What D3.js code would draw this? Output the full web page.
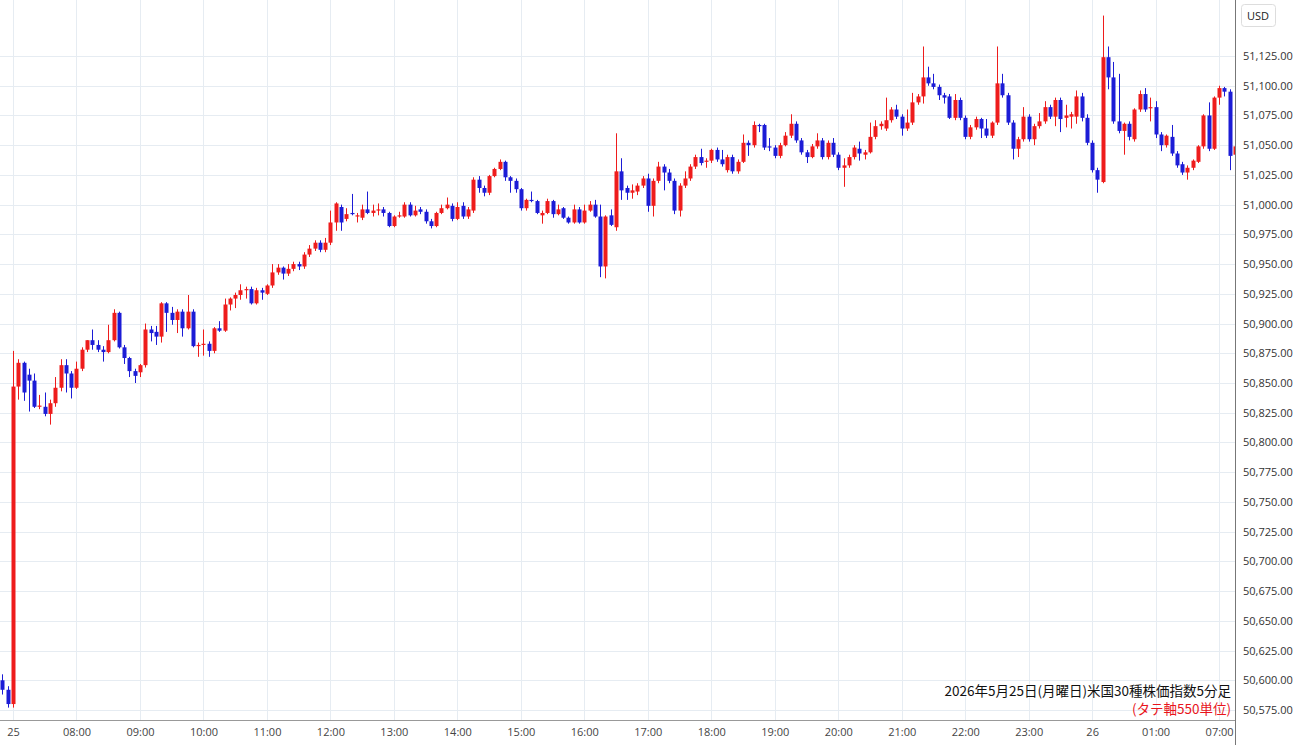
<!DOCTYPE html>
<html><head><meta charset="utf-8">
<script src="https://cdn.jsdelivr.net/npm/d3@7"></script>
<style>body{margin:0;background:#fff}svg{display:block;font-family:"Noto Sans CJK JP","Noto Sans",sans-serif}</style>
</head><body><svg id="c" width="1300" height="745"></svg>
<script>
// candle index (0 = 07:00 on the 25th, 5-minute steps; gap 02:00-07:00 collapsed)
const startIndex = -2;
const open = [50600,50592,50580,50847,50867,50857,50852,50830,50830,50824,50833,50846,50865,50858,50846,50862,50878,50886,50882,50878,50876,50886,50909,50880,50871,50860,50859,50865,50895,50893,50889,50917,50909,50903,50910,50896,50910,50881,50882,50883,50877,50896,50894,50916,50921,50924,50928,50929,50917,50928,50925,50932,50943,50947,50942,50946,50950,50948,50958,50963,50968,50962,50968,50985,50998,50988,50993,50990,50989,50996,50993,50995,50996,50993,50982,50990,50990,51000,50991,50996,50994,50986,50982,50993,50997,50999,50988,50999,50990,50995,51021,51014,51010,51024,51030,51036,51023,51020,51013,50997,51004,51003,50991,50993,51003,50992,50997,50989,50985,50996,50985,50995,51000,50990,50948,50991,50981,51028,51014,51010,51011,51016,51022,50999,51020,51032,51027,51020,50995,51016,51022,51032,51040,51036,51037,51046,51038,51029,51040,51028,51036,51052,51050,51067,51067,51049,51048,51041,51050,51058,51068,51054,51044,51040,51049,51054,51040,51052,51042,51031,51033,51040,51047,51042,51044,51057,51066,51064,51071,51080,51074,51064,51069,51086,51091,51107,51102,51099,51092,51091,51073,51088,51073,51057,51065,51072,51064,51058,51069,51102,51092,51069,51047,51055,51074,51055,51066,51070,51082,51074,51088,51073,51074,51074,51091,51073,51052,51029,51019,51124,51107,51070,51062,51068,51055,51080,51093,51081,51082,51059,51050,51057,51043,51034,51027,51031,51036,51049,51075,51047,51090,51098,51095,51042];
const high = [50605,50595,50877,50870,50868,50862,50858,50840,50842,50836,50855,50870,50870,50860,50868,50880,50886,50895,50886,50881,50899,50912,50910,50882,50872,50862,50866,50900,50898,50898,50918,50918,50914,50912,50912,50924,50912,50884,50895,50885,50897,50902,50921,50922,50926,50933,50931,50931,50930,50930,50933,50950,50950,50948,50950,50952,50952,50960,50966,50970,50970,50972,50995,51002,51000,50997,51009,50993,51000,51011,51000,51001,50998,50994,50991,50994,51002,51002,50999,50998,50996,50988,50994,51000,51006,51001,51002,51002,50998,51023,51024,51016,51025,51031,51038,51037,51024,51022,51014,51005,51011,51004,50995,51005,51004,51000,50998,50990,51000,50998,51000,51003,51004,51000,50991,50996,51060,51039,51016,51017,51018,51024,51026,51022,51036,51034,51030,51022,51018,51028,51034,51042,51047,51039,51047,51048,51046,51042,51042,51038,51059,51054,51070,51068,51068,51056,51050,51052,51061,51076,51070,51056,51046,51051,51060,51056,51054,51056,51044,51039,51042,51050,51053,51046,51069,51071,51070,51090,51082,51084,51076,51080,51094,51093,51133,51116,51110,51101,51094,51093,51093,51090,51075,51067,51074,51073,51072,51070,51133,51110,51094,51071,51057,51082,51076,51068,51077,51087,51084,51090,51090,51084,51078,51096,51094,51076,51054,51031,51159,51133,51120,51110,51069,51070,51081,51096,51098,51090,51087,51061,51059,51067,51045,51036,51033,51038,51050,51076,51086,51091,51100,51099,51097,51050];
const low = [50588,50577,50577,50836,50835,50826,50829,50828,50822,50815,50830,50843,50842,50837,50845,50860,50876,50878,50876,50868,50875,50885,50879,50866,50855,50850,50855,50863,50885,50882,50884,50893,50899,50892,50889,50895,50880,50872,50873,50872,50875,50893,50893,50911,50913,50920,50921,50916,50916,50920,50924,50930,50941,50937,50940,50944,50945,50946,50956,50961,50960,50960,50966,50978,50978,50986,50991,50985,50987,50992,50990,50991,50990,50981,50981,50989,50989,50990,50990,50992,50984,50980,50981,50992,50996,50986,50987,50988,50988,50993,51010,51007,51008,51023,51029,51020,51010,51010,50995,50995,51002,50992,50984,50992,50989,50991,50988,50984,50984,50984,50984,50994,50989,50939,50938,50982,50978,51004,51004,51005,51008,51014,50994,50990,51018,51012,51018,50992,50990,51014,51020,51030,51033,51031,51035,51036,51032,51027,51026,51026,51035,51041,51048,51061,51046,51045,51039,51039,51049,51056,51052,51042,51035,51039,51047,51038,51038,51040,51029,51015,51031,51038,51037,51038,51043,51055,51063,51062,51069,51072,51058,51062,51067,51084,51085,51100,51097,51088,51085,51072,51071,51071,51055,51055,51063,51056,51056,51056,51067,51090,51067,51038,51040,51053,51053,51050,51064,51068,51072,51066,51061,51065,51064,51068,51070,51050,51027,51010,51018,51097,51068,51060,51042,51054,51053,51078,51078,51070,51056,51045,51048,51041,51031,51025,51021,51029,51035,51047,51045,51046,51084,51091,51029,51040];
const close = [50592,50580,50847,50867,50842,50852,50830,50831,50824,50833,50846,50865,50858,50846,50862,50878,50886,50882,50878,50876,50886,50909,50880,50871,50860,50856,50865,50895,50892,50889,50917,50909,50903,50910,50896,50910,50881,50882,50883,50877,50896,50894,50916,50921,50924,50928,50929,50917,50928,50926,50932,50943,50947,50942,50946,50950,50948,50958,50963,50968,50962,50968,50985,51001,50985,50992,50992,50991,50996,50993,50995,50996,50993,50982,50990,50991,51000,50991,50995,50994,50986,50982,50993,50997,51000,50988,50998,50990,50996,51021,51014,51010,51024,51030,51036,51023,51020,51013,50997,51004,51003,50993,50993,51003,50992,50996,50989,50985,50996,50985,50995,51000,50990,50948,50990,50983,51028,51012,51010,51012,51016,51022,50999,51020,51032,51027,51020,50995,51016,51022,51032,51040,51035,51037,51046,51038,51034,51040,51028,51036,51052,51050,51067,51066,51048,51048,51041,51050,51058,51068,51054,51044,51040,51049,51054,51040,51052,51042,51031,51033,51040,51048,51043,51044,51057,51066,51068,51071,51080,51074,51064,51069,51086,51091,51107,51102,51099,51092,51090,51073,51088,51073,51057,51065,51072,51064,51058,51069,51102,51092,51069,51047,51055,51074,51055,51066,51070,51082,51074,51088,51072,51075,51076,51091,51073,51052,51029,51021,51124,51107,51070,51062,51068,51057,51080,51093,51080,51082,51059,51050,51058,51043,51033,51027,51031,51037,51049,51075,51047,51090,51098,51095,51041,51049];
const tickIndex = [0,12,24,36,48,60,72,84,96,108,120,132,144,156,168,180,192,204,216,228];
const tickLabels = ["25","08:00","09:00","10:00","11:00","12:00","13:00","14:00","15:00","16:00","17:00","18:00","19:00","20:00","21:00","22:00","23:00","26","01:00","07:00"];
const priceTicks = d3.range(50575, 51126, 25);
const titleText = "2026年5月25日(月曜日)米国30種株価指数5分足";
const noteText = "(タテ軸550単位)";

const W = 1300, H = 745, plotR = 1235, plotB = 720;
const UP = "#ee1c1c", DOWN = "#1c1cd6";
const svg = d3.select("#c");
const x = d3.scaleLinear().domain([0, 228]).range([13, 13 + 228 * 5.29]);
const y = d3.scaleLinear().domain([50575, 51125]).range([710, 56]);

const defs = svg.append("defs");
defs.append("clipPath").attr("id","clip").append("rect").attr("x",0).attr("y",0).attr("width",plotR).attr("height",plotB);
defs.append("clipPath").attr("id","clipx").append("rect").attr("x",0).attr("y",0).attr("width",plotR).attr("height",30);
const grid = svg.append("g");
grid.selectAll("line.h").data(priceTicks).join("line").attr("x1",0).attr("x2",plotR)
  .attr("y1",d=>Math.round(y(d))+0.5).attr("y2",d=>Math.round(y(d))+0.5).attr("stroke","#e6ecf2");
grid.selectAll("line.v").data(tickIndex).join("line").attr("y1",0).attr("y2",plotB)
  .attr("x1",d=>Math.round(x(d))+0.5).attr("x2",d=>Math.round(x(d))+0.5).attr("stroke","#e6ecf2");

const data = close.map((c,i)=>({i:i+startIndex,o:open[i],h:high[i],l:low[i],c}));
const g = svg.append("g").attr("clip-path","url(#clip)");
const cg = g.selectAll("g").data(data).join("g");
cg.append("line").attr("x1",d=>Math.round(x(d.i))+0.5).attr("x2",d=>Math.round(x(d.i))+0.5)
  .attr("y1",d=>y(d.h)).attr("y2",d=>y(d.l)).attr("stroke",d=>d.c>=d.o?UP:DOWN).attr("stroke-width",1);
cg.append("rect").attr("x",d=>Math.round(x(d.i))-1.5).attr("width",4)
  .attr("y",d=>y(Math.max(d.o,d.c))).attr("height",d=>Math.max(1,Math.abs(y(d.o)-y(d.c))))
  .attr("fill",d=>d.c>=d.o?UP:DOWN);

svg.append("line").attr("x1",0).attr("x2",plotR).attr("y1",plotB+0.5).attr("y2",plotB+0.5).attr("stroke","#999");
svg.append("line").attr("x1",plotR+0.5).attr("x2",plotR+0.5).attr("y1",0).attr("y2",H).attr("stroke","#777");
const yAxis = d3.axisRight(y).tickValues(priceTicks).tickSize(0).tickPadding(8).tickFormat(d3.format(",.2f"));
const ya = svg.append("g").attr("transform",`translate(${plotR},0)`).call(yAxis);
ya.select(".domain").remove();
ya.selectAll("text").attr("font-size",11).attr("fill","#333").attr("font-family","'Open Sans',sans-serif");
const xAxis = d3.axisBottom(x).tickValues(tickIndex).tickSize(0).tickPadding(8).tickFormat((d,k)=>tickLabels[k]);
const xa = svg.append("g").attr("transform",`translate(0,${plotB})`).attr("clip-path","url(#clipx)").call(xAxis);
xa.select(".domain").remove();
xa.selectAll("text").attr("font-size",11).attr("fill","#444").attr("font-family","'Open Sans',sans-serif");

svg.append("rect").attr("x",1241.5).attr("y",4.5).attr("width",34).attr("height",22).attr("rx",3).attr("fill","#fff").attr("stroke","#ddd");
svg.append("text").attr("x",1258).attr("y",20).attr("text-anchor","middle").attr("font-size",11).attr("fill","#222").attr("font-family","'Open Sans',sans-serif").text("USD");

svg.append("text").attr("x",1231).attr("y",696).attr("text-anchor","end").attr("font-size",13.5).attr("fill","#111").text(titleText);
svg.append("text").attr("x",1231).attr("y",714).attr("text-anchor","end").attr("font-size",13.5).attr("fill","#e8141c").text(noteText);
</script></body></html>
